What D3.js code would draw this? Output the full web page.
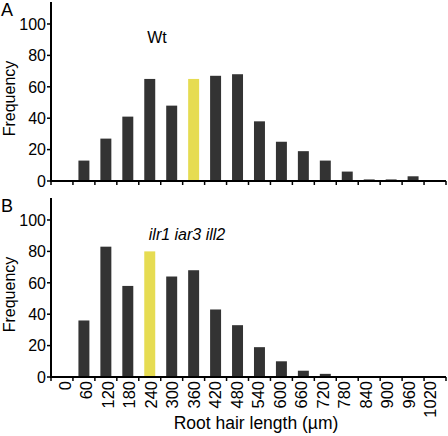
<!DOCTYPE html>
<html><head><meta charset="utf-8">
<script src="https://cdn.jsdelivr.net/npm/d3@7"></script>
<style>
body{margin:0;background:#fff;}
text{font-family:"Liberation Sans",Arial,sans-serif;fill:#000;}
</style></head>
<body><svg id="c" width="448" height="436"></svg>
<script>
const bins = ["0","60","120","180","240","300","360","420","480","540","600","660","720","780","840","900","960","1020"];
const wtValues = [0,13,27,41,65,48,65,67,68,38,25,19,13,6,1,1,3,0];
const mutValues = [0,36,83,58,80,64,68,43,33,19,10,4,2,0,0,0,0,0];
const wtHighlight = "360";
const mutHighlight = "240";
const yTicks = [0,20,40,60,80,100];
const panels = [
  {letter:"A", title:"Wt", italic:false, values:wtValues, hl:wtHighlight, y0:181, y1:2, titleX:157, titleY:43, showLabels:false},
  {letter:"B", title:"ilr1 iar3 ill2", italic:true, values:mutValues, hl:mutHighlight, y0:377, y1:198, titleX:187, titleY:240, showLabels:true}
];
const svg = d3.select("#c");
const left = 51, right = 446;
const x = d3.scaleBand().domain(bins).range([left,right]).paddingInner(0.5).paddingOuter(0.25);
const xl = d3.scalePoint().domain(bins).range([65,430.5]);
const step = x.step();
const dark = "#333333", yellow = "#e6dc52";

panels.forEach(p => {
  const y = d3.scaleLinear().domain([0,114]).range([p.y0,p.y1]);
  const g = svg.append("g");
  g.selectAll("rect").data(bins.map((b,i)=>({b, v:p.values[i]})).filter(d=>d.v>0))
    .enter().append("rect")
    .attr("x", d=>x(d.b)).attr("width", x.bandwidth())
    .attr("y", d=>y(d.v)).attr("height", d=>y(0)-y(d.v))
    .attr("fill", d=> d.b===p.hl ? yellow : dark);
  g.append("line").attr("x1",left).attr("x2",left).attr("y1",y(114)).attr("y2",y(0)+1)
    .attr("stroke","#000").attr("stroke-width",2);
  g.selectAll(".yt").data(yTicks).enter().append("line")
    .attr("x1",left-4).attr("x2",left).attr("y1",d=>y(d)).attr("y2",d=>y(d))
    .attr("stroke","#000").attr("stroke-width",1.5);
  g.selectAll(".yl").data(yTicks).enter().append("text")
    .attr("x",left-5).attr("y",d=>y(d)).attr("dy","0.36em")
    .attr("text-anchor","end").attr("font-size",16).text(d=>d);
  g.append("line").attr("x1",left).attr("x2",right).attr("y1",y(0)).attr("y2",y(0))
    .attr("stroke","#000").attr("stroke-width",2);
  const bounds = d3.range(bins.length+1).map(i=>left+i*step);
  g.selectAll(".xt").data(bounds).enter().append("line")
    .attr("x1",d=>d).attr("x2",d=>d).attr("y1",y(0)).attr("y2",y(0)+4)
    .attr("stroke","#000").attr("stroke-width",1.5);
  if (p.showLabels) {
    g.selectAll(".xl").data(bins).enter().append("text")
      .attr("transform",d=>`translate(${xl(d)},${y(0)+4}) rotate(-90)`)
      .attr("dy","0.36em").attr("text-anchor","end").attr("font-size",16.5).text(d=>d);
  }
  g.append("text").attr("transform",`translate(15,${(y(0)+y(114))/2+7}) rotate(-90)`)
    .attr("text-anchor","middle").attr("font-size",16).text("Frequency");
  g.append("text").attr("x",1).attr("y",p.y1+14).attr("font-size",18).text(p.letter);
  g.append("text").attr("x",p.titleX).attr("y",p.titleY).attr("text-anchor","middle")
    .attr("font-size",16).attr("font-style",p.italic?"italic":"normal").text(p.title);
});
svg.append("text").attr("x",256).attr("y",429).attr("text-anchor","middle")
  .attr("font-size",17.5).text("Root hair length (µm)");
</script></body></html>
